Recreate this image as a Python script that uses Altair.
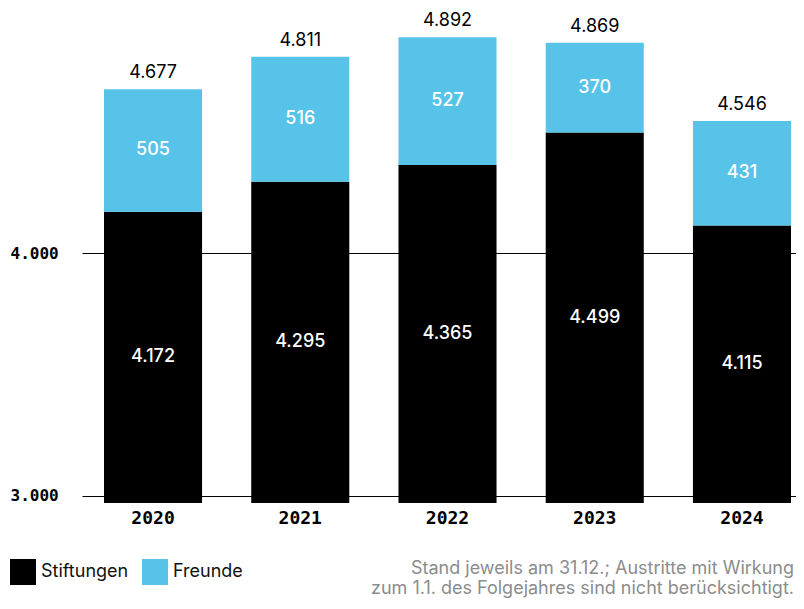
import altair as alt
import pandas as pd

years = ["2020", "2021", "2022", "2023", "2024"]
stiftungen = [4172, 4295, 4365, 4499, 4115]
freunde = [505, 516, 527, 370, 431]
series = ["Stiftungen", "Freunde"]
colors = ["#000000", "#57C3E8"]
y_ticks = [3000, 4000]
y_domain = [2970, 5000]
note = ["Stand jeweils am 31.12.; Austritte mit Wirkung",
        "zum 1.1. des Folgejahres sind nicht berücksichtigt."]

wide = pd.DataFrame({"year": years, "Stiftungen": stiftungen, "Freunde": freunde})
long = wide.melt(id_vars="year", value_vars=series, var_name="series", value_name="value")
long["ord"] = long["series"].map({s: i for i, s in enumerate(series)})


def fmt(f):
    return f"replace(format({f}, ','), ',', '.')"


MONO = "DejaVu Sans Mono"
SANS = "Inter"

xenc = alt.X(
    "year:N", sort=years, title=None,
    scale=alt.Scale(paddingInner=0.334, paddingOuter=0.0917, align=0.815),
    axis=alt.Axis(labelFont=MONO, labelFontSize=18, labelFontWeight="bold",
                  labelColor="#000", labelPadding=6, ticks=False, tickSize=0,
                  domain=False, labelAngle=0, grid=False),
)
yscale = alt.Scale(domain=y_domain, nice=False, zero=False)
yaxis = alt.Axis(values=y_ticks, grid=True, gridColor="#000", gridWidth=1,
                 gridOpacity=1, domain=False, ticks=False, tickSize=0,
                 labelAlign="left", labelPadding=72, labelFont=MONO,
                 labelFontSize=16, labelFontWeight="bold", labelColor="#000",
                 labelExpr=fmt("datum.value"))

bars = alt.Chart(long).mark_bar(clip=True).encode(
    x=xenc,
    y=alt.Y("value:Q", stack="zero", scale=yscale, title=None, axis=yaxis),
    color=alt.Color("series:N", scale=alt.Scale(domain=series, range=colors),
                    legend=alt.Legend(orient="none", legendX=-72, legendY=548,
                                      direction="horizontal", title=None,
                                      symbolType="square", symbolSize=676,
                                      symbolStrokeWidth=0, symbolOpacity=1,
                                      labelFont=SANS, labelFontSize=18,
                                      labelColor="#111", labelOffset=5,
                                      columnPadding=13, padding=0)),
    order=alt.Order("ord:Q"),
)

base = alt.Chart(wide).transform_calculate(
    total="datum.Stiftungen + datum.Freunde",
    s_lbl=fmt("datum.Stiftungen"),
    f_lbl=fmt("datum.Freunde"),
    t_lbl=fmt("datum.Stiftungen + datum.Freunde"),
    s_pos=f"({y_domain[0]} + datum.Stiftungen) / 2",
    f_pos="datum.Stiftungen + datum.Freunde / 2",
)

s_text = base.mark_text(color="white", font=SANS, fontSize=18, fontWeight=500,
                        baseline="middle").encode(
    x=xenc, y=alt.Y("s_pos:Q", scale=yscale, axis=yaxis, title=None), text="s_lbl:N")
f_text = base.mark_text(color="white", font=SANS, fontSize=18, fontWeight=500,
                        baseline="middle").encode(
    x=xenc, y=alt.Y("f_pos:Q", scale=yscale, axis=yaxis, title=None), text="f_lbl:N")
t_text = base.mark_text(color="#000", font=SANS, fontSize=18, fontWeight=400,
                        baseline="alphabetic", dy=-11).encode(
    x=xenc, y=alt.Y("total:Q", scale=yscale, axis=yaxis, title=None), text="t_lbl:N")

foot = alt.Chart(pd.DataFrame({"k": [0]})).mark_text(
    text=note, align="right", baseline="alphabetic", font=SANS, fontSize=18,
    color="#8c8c8c", lineHeight=20,
).encode(x=alt.value(712), y=alt.value(563))

chart = alt.layer(bars, s_text, f_text, t_text, foot).properties(
    width=714, height=492,
    autosize=alt.AutoSizeParams(type="none"),
    padding={"left": 74, "top": 3, "right": 0, "bottom": 98},
).configure_view(stroke=None)

chart.save("out.html", embed_options={"renderer": "svg", "actions": False})
